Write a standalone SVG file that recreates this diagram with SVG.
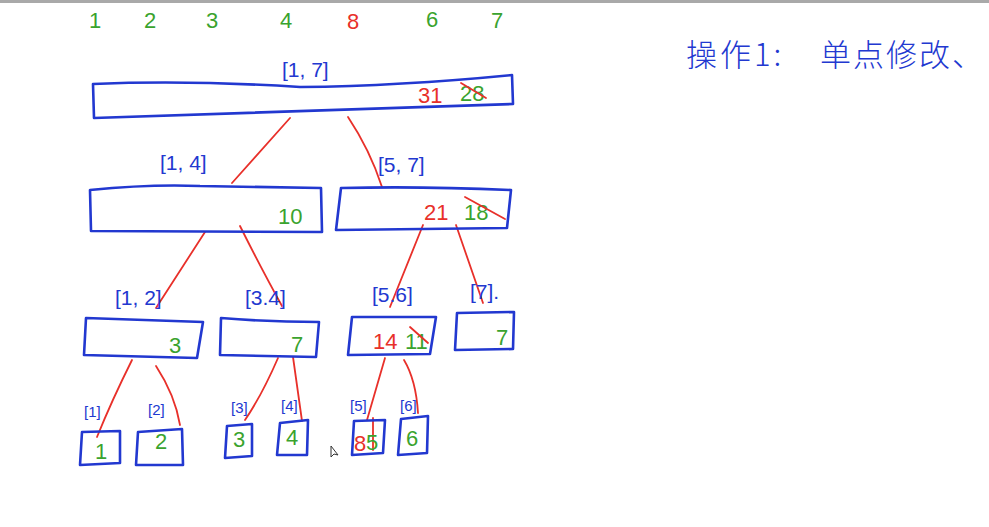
<svg xmlns="http://www.w3.org/2000/svg" width="989" height="527" viewBox="0 0 989 527">
<style>
.box{fill:none;stroke:#2238d0;stroke-width:2.6;stroke-linejoin:round;stroke-linecap:round}
.edge{fill:none;stroke:#e8302a;stroke-width:1.8;stroke-linecap:round}
.strike{fill:none;stroke:#e8302a;stroke-width:1.8;stroke-linecap:round}
.lbl{font-family:"Liberation Sans","DejaVu Sans",sans-serif;fill:#2238d0;font-size:21px}
.sm{font-size:15px}
.g{font-family:"Liberation Sans","DejaVu Sans",sans-serif;fill:#3aa32e;font-size:22px}
.r{font-family:"Liberation Sans","DejaVu Sans",sans-serif;fill:#e8302a;font-size:22px}
.cn{font-family:"Noto Sans CJK SC","Liberation Sans",sans-serif;fill:#2238d0;font-size:31px;font-weight:300}
</style>
<rect x="0" y="0" width="989" height="527" fill="#ffffff"/>
<rect x="0" y="0" width="989" height="3" fill="#a9a9a9"/>

<g id="top-values">
<text class="g" x="95" y="28" text-anchor="middle">1</text>
<text class="g" x="150" y="28" text-anchor="middle">2</text>
<text class="g" x="212" y="28" text-anchor="middle">3</text>
<text class="g" x="286" y="28" text-anchor="middle">4</text>
<text class="r" x="353" y="29" text-anchor="middle">8</text>
<text class="g" x="432" y="27" text-anchor="middle">6</text>
<text class="g" x="497" y="28" text-anchor="middle">7</text>
</g>

<g id="title">
<text class="cn" x="686" y="66" letter-spacing="3">操作1:</text>
<text class="cn" x="820" y="66" letter-spacing="2">单点修改、</text>
</g>

<g id="connectors">
<path class="edge" d="M290,118 L232,183"/>
<path class="edge" d="M348,117 Q370,150 382,187"/>
<path class="edge" d="M205,232 L156,308"/>
<path class="edge" d="M240,226 Q262,270 282,306"/>
<path class="edge" d="M423,225 L390,307"/>
<path class="edge" d="M456,225 Q470,265 483,303"/>
<path class="edge" d="M132,360 Q112,400 97,437"/>
<path class="edge" d="M156,366 Q175,395 180,425"/>
<path class="edge" d="M278,358 Q262,395 245,420"/>
<path class="edge" d="M293,357 L302,421"/>
<path class="edge" d="M385,358 L367,420"/>
<path class="edge" d="M373,418 L373,450"/>
<path class="edge" d="M404,360 Q416,380 418,413"/>
</g>

<g id="node-1-7">
<path class="box" d="M93,84 Q190,80 300,87 Q400,86 512,75 L513,104 Q300,112 94,118 Z"/>
<text class="lbl" x="282" y="77">[1, 7]</text>
<text class="r" x="418" y="103">31</text>
<text class="g" x="460" y="101">28</text>
<path class="strike" d="M461,83 L486,98"/>
</g>

<g id="node-1-4">
<path class="box" d="M90,190 Q150,184 200,186 Q260,187 321,188 L322,232 L91,231 Z"/>
<text class="lbl" x="160" y="170">[1, 4]</text>
<text class="g" x="278" y="224">10</text>
</g>

<g id="node-5-7">
<path class="box" d="M341,188 Q420,186 511,190 L507,228 L336,230 Z"/>
<text class="lbl" x="378" y="172">[5, 7]</text>
<text class="r" x="424" y="220">21</text>
<text class="g" x="464" y="220">18</text>
<path class="strike" d="M465,197 L505,219"/>
</g>

<g id="node-1-2">
<path class="box" d="M86,318 L203,322 L197,358 L84,355 Z"/>
<text class="lbl" x="115" y="305">[1, 2]</text>
<text class="g" x="169" y="353">3</text>
</g>

<g id="node-3-4">
<path class="box" d="M221,318 Q270,322 319,322 L316,357 L220,355 Z"/>
<text class="lbl" x="245" y="305">[3.4]</text>
<text class="g" x="291" y="352">7</text>
</g>

<g id="node-5-6">
<path class="box" d="M352,317 L436,317 L430,354 L348,355 Z"/>
<text class="lbl" x="372" y="302">[5.6]</text>
<text class="r" x="373" y="349">14</text>
<text class="g" x="405" y="349">11</text>
<path class="strike" d="M410,327 L428,343"/>
</g>

<g id="node-7">
<path class="box" d="M457,313 L514,312 L513,349 L455,350 Z"/>
<text class="lbl" x="470" y="299">[7].</text>
<text class="g" x="496" y="345">7</text>
</g>

<g id="leaf-1">
<path class="box" d="M82,432 L120,431 L120,463 L80,465 Z"/>
<text class="lbl sm" x="84" y="417">[1]</text>
<text class="g" x="95" y="459" font-size="19">1</text>
</g>
<g id="leaf-2">
<path class="box" d="M138,432 L182,429 L183,465 L136,465 Z"/>
<text class="lbl sm" x="148" y="415">[2]</text>
<text class="g" x="155" y="449" font-size="19">2</text>
</g>
<g id="leaf-3">
<path class="box" d="M227,426 L252,424 L252,456 L225,458 Z"/>
<text class="lbl sm" x="231" y="413">[3]</text>
<text class="g" x="233" y="447" font-size="19">3</text>
</g>
<g id="leaf-4">
<path class="box" d="M280,423 L308,420 L307,455 L277,455 Z"/>
<text class="lbl sm" x="281" y="411">[4]</text>
<text class="g" x="286" y="445" font-size="19">4</text>
</g>
<g id="leaf-5">
<path class="box" d="M354,421 L385,420 L383,453 L352,455 Z"/>
<text class="lbl sm" x="350" y="411">[5]</text>
<text class="r" x="354" y="451" font-size="19">8</text>
<text class="g" x="366" y="450" font-size="19">5</text>
</g>
<g id="leaf-6">
<path class="box" d="M401,419 L428,416 L427,453 L398,455 Z"/>
<text class="lbl sm" x="400" y="411">[6]</text>
<text class="g" x="406" y="446" font-size="19">6</text>
</g>

<path d="M331,446 L331,457 L334,454 L338,455 Z" fill="#ffffff" stroke="#333" stroke-width="1"/>
</svg>
